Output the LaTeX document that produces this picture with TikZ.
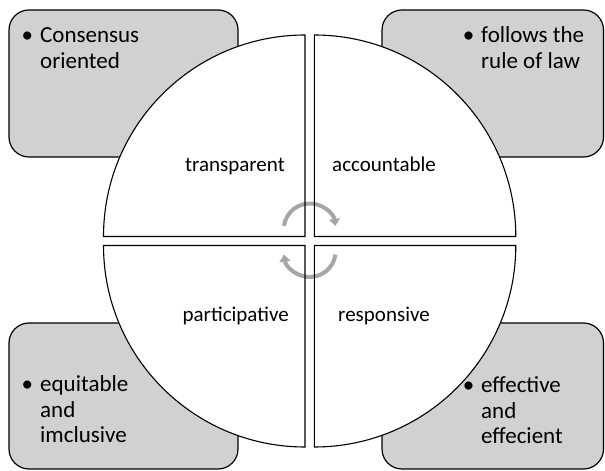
\documentclass[tikz,border=0pt]{standalone}
\usepackage{fontspec}
\setmainfont{Carlito}
\usepackage{tikz}
\usetikzlibrary{shapes,arrows.meta}

\begin{document}
\begin{tikzpicture}[x=1pt,y=1pt,
    corner/.style={draw=black, line width=1.2pt, fill=black!18, rounded corners=20pt},
    piece/.style={line width=1.1pt},
    cycarrow/.style={draw=black!35, line width=4pt, -{Triangle[length=7pt,width=11pt]}},
    point/.style={inner sep=0pt, font=\fontsize{23}{25.5}\selectfont},
    label/.style={inner sep=0pt, font=\fontsize{21}{24}\selectfont}]
        \useasboundingbox (0,0) rectangle (605,471);
        % grey boxes in the corners
        \draw[corner] (9,314) rectangle (238,461);
        \draw[corner] (382,314) rectangle (603.5,461);
        \draw[corner] (9,2) rectangle (238,148);
        \draw[corner] (382,2) rectangle (603.5,148);
        % four pieces of the circle
        \coordinate (tl) at (305,234.5);
        \coordinate (tr) at (314.3,234.5);
        \coordinate (bl) at (305,225.5);
        \coordinate (br) at (314.3,225.5);
        \fill[white] (tl) -- ++(-201.5,0) arc[start angle=180, end angle=90, radius=201.5] -- cycle;
        \fill[white] (tr) -- ++(0,201.5) arc[start angle=90, end angle=0, radius=201.5] -- cycle;
        \fill[white] (bl) -- ++(0,-201.5) arc[start angle=270, end angle=180, radius=201.5] -- cycle;
        \fill[white] (br) -- ++(201.5,0) arc[start angle=0, end angle=-90, radius=201.5] -- cycle;
        % cycle arrows
        \draw[cycarrow] (309.7,241.5) ++(172:26) arc[start angle=172, end angle=8, radius=26];
        \draw[cycarrow] (309.7,220) ++(-8:26) arc[start angle=-8, end angle=-172, radius=26];
        \draw[piece] (tl) -- ++(-201.5,0) arc[start angle=180, end angle=90, radius=201.5] -- cycle;
        \draw[piece] (tr) -- ++(0,201.5) arc[start angle=90, end angle=0, radius=201.5] -- cycle;
        \draw[piece] (bl) -- ++(0,-201.5) arc[start angle=270, end angle=180, radius=201.5] -- cycle;
        \draw[piece] (br) -- ++(201.5,0) arc[start angle=0, end angle=-90, radius=201.5] -- cycle;
        % labels
        \node[label, anchor=base east] (transp) at (285,299) {transparent};
        \node[label, anchor=base west] (acct) at (332,299) {accountable};
        \node[label, anchor=base east] (partic) at (289,149.5) {participative};
        \node[label, anchor=base west] (resp) at (338,149.5) {responsive};
        \node[point, anchor=base west] (cons) at (40,428)
            {\begin{tabular}[t]{@{}l@{}}\llap{•\hspace{7pt}}Consensus\\oriented\end{tabular}};
        \node[point, anchor=base west] (law) at (481,428)
            {\begin{tabular}[t]{@{}l@{}}\llap{•\hspace{7pt}}follows the\\rule of law\end{tabular}};
        \node[point, anchor=base west] (equi) at (40,79)
            {\begin{tabular}[t]{@{}l@{}}\llap{•\hspace{7pt}}equitable\\and\\imclusive\end{tabular}};
        \node[point, anchor=base west] (eff) at (481,78)
            {\begin{tabular}[t]{@{}l@{}}\llap{•\hspace{7pt}}effective\\and\\effecient\end{tabular}};
\end{tikzpicture}
\end{document}
